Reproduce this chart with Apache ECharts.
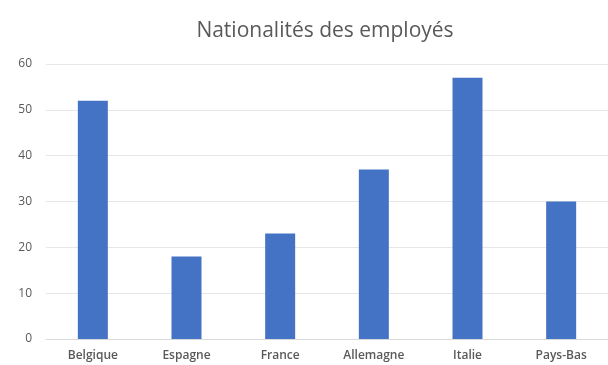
<!DOCTYPE html>
<html>
<head>
<meta charset="utf-8">
<script src="https://cdn.jsdelivr.net/npm/echarts@6/dist/echarts.min.js"></script>
<style>html,body{margin:0;padding:0;background:#fff;}#c{width:608px;height:365px;}</style>
</head>
<body>
<div id="c"></div>
<script>
const categories = ['Belgique', 'Espagne', 'France', 'Allemagne', 'Italie', 'Pays-Bas'];
const values = [52, 18, 23, 37, 57, 30];
const yTicks = [0, 10, 20, 30, 40, 50, 60];

const chart = echarts.init(document.getElementById('c'));
chart.setOption({
  animation: false,
  backgroundColor: '#ffffff',
  title: {
    text: 'Nationalités des employés',
    left: 320,
    textAlign: 'center',
    top: 16,
    textStyle: { fontFamily: 'Open Sans', fontSize: 21, fontWeight: 'normal', color: '#595959' }
  },
  grid: { left: 46, width: 572, top: 64, bottom: 26, containLabel: false },
  xAxis: {
    type: 'category',
    data: categories,
    axisLine: { lineStyle: { color: '#d9d9d9', width: 1 } },
    axisTick: { show: false },
    axisLabel: { margin: 11, fontFamily: 'Open Sans', fontSize: 12, fontWeight: 600, color: '#595959' }
  },
  yAxis: {
    type: 'value',
    min: yTicks[0],
    max: yTicks[yTicks.length - 1],
    interval: 10,
    axisLine: { show: false },
    axisTick: { show: false },
    splitLine: { lineStyle: { color: '#e6e6e6', width: 1 } },
    axisLabel: { margin: 14, fontFamily: 'Open Sans', fontSize: 12, color: '#595959' }
  },
  series: [{
    type: 'bar',
    data: values,
    barWidth: 30,
    itemStyle: { color: '#4472C4' }
  }]
});
</script>
</body>
</html>
